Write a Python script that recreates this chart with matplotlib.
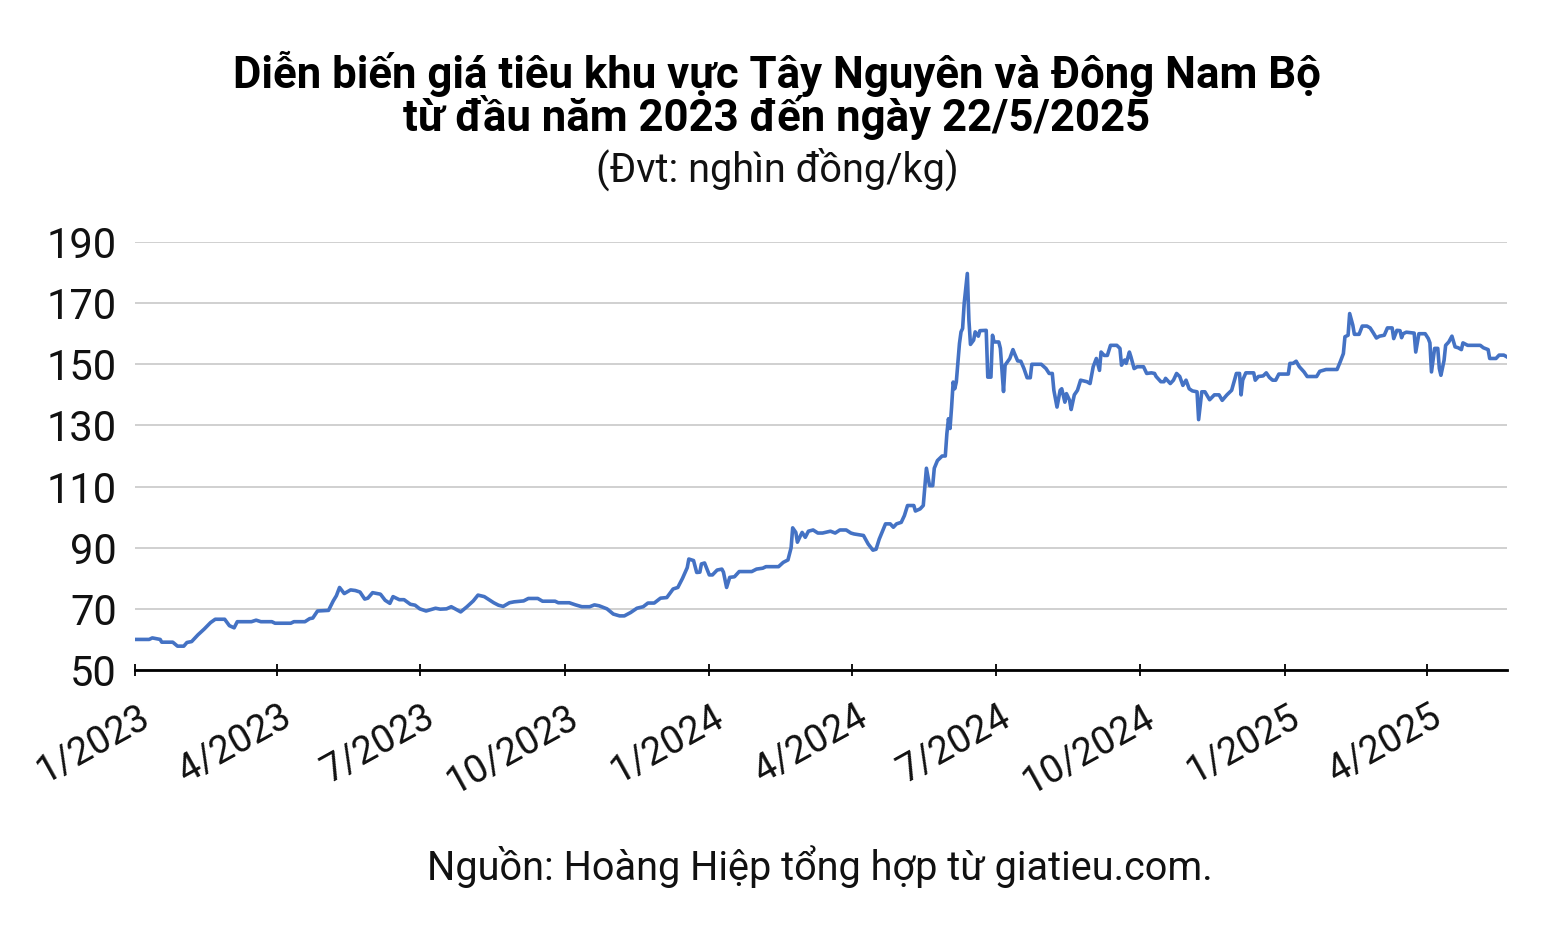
import matplotlib
matplotlib.use("Agg")
import matplotlib.pyplot as plt
import matplotlib.transforms as mtransforms
import pandas as pd

plt.rcParams['font.family'] = ['Roboto', 'DejaVu Sans']

# ---- data ----
start_date = "2023-01-01"
day_offsets = [
    0, 9, 11, 16, 17, 24, 27, 31, 33, 36, 40, 44, 48, 51, 57, 60, 63, 65, 74, 77,
    80, 87, 89, 99, 101, 108, 111, 113, 116, 123, 126, 128, 130, 133, 137, 140, 143,
    146, 148, 151, 156, 159, 162, 164, 168, 171, 175, 178, 181, 185, 191, 194, 198,
    201, 207, 211, 215, 218, 222, 228, 231, 234, 238, 241, 247, 250, 256, 259, 267,
    269, 276, 280, 284, 289, 292, 295, 300,
    304, 308, 311, 315, 319, 323, 326, 330, 334, 338, 342, 345, 348, 351, 352, 355,
    357, 359, 360, 362, 365, 367, 370, 373, 374, 376, 378, 381, 384, 392, 395, 399,
    401, 409, 412, 415, 417, 418, 420, 421, 423, 424, 426, 428, 431, 434, 437, 442,
    445, 448, 452, 455, 457,
    463, 466, 469, 471, 473, 477, 480, 482, 484, 487, 489, 491, 495, 496, 499, 501,
    502, 503, 505, 507, 508, 510, 513, 515, 516, 517, 518, 519, 520, 521, 522, 524,
    525, 526, 527, 529, 530, 531, 533, 534, 536, 537, 541, 542, 544, 545, 546, 549,
    550, 552, 553, 556, 558, 559, 561, 563, 565, 567, 569, 570, 576, 579, 581, 583,
    584, 586, 588, 589, 591, 592, 594, 595, 597, 599, 601, 605, 607, 609, 611, 613,
    614, 616, 618, 620, 624, 626, 627, 629, 630, 632, 633, 635, 637, 641, 643, 646,
    648, 649, 652, 654, 655, 658, 660, 662, 664, 666, 668, 670, 672, 675, 676, 678,
    680, 683, 686, 689, 691, 694, 697, 700, 702, 703, 704, 706, 711, 712, 714, 717,
    719, 721, 723, 725, 727, 733, 734, 736, 738, 740, 743, 745, 751, 753, 757, 764,
    766, 768, 769, 771, 772, 774, 775, 778, 780, 783, 785, 787, 789, 791, 794, 796,
    799, 800, 802, 804, 805, 806, 808, 813, 814, 816, 820, 822, 823, 824, 826, 828,
    829, 830, 832, 833, 835, 837, 839, 841, 843, 844, 847, 855, 857, 860, 861, 865,
    867, 870, 872,
]
prices = [
    60, 60, 60.5, 60, 59.1, 59.1, 57.8, 57.8, 59, 59.3, 61.5, 63.4, 65.5, 66.6, 66.6,
    64.5, 63.8, 65.8, 65.8, 66.3, 65.8, 65.8, 65.3, 65.3, 65.8, 65.8, 66.8, 67, 69.3,
    69.5, 72.6, 74.3, 77, 75, 76.2, 76, 75.5,
    73.2, 73.5, 75.3, 74.8, 72.8, 71.8, 74, 73, 73, 71.5, 71.2, 70, 69.3, 70.2, 69.9,
    70, 70.7, 69, 70.7, 72.6, 74.5, 74, 72, 71.2, 70.8, 72, 72.3, 72.6, 73.4, 73.4,
    72.5, 72.5, 72, 72, 71.3, 70.7, 70.7, 71.3, 71, 70,
    68.3, 67.7, 67.7, 68.8, 70.2, 70.7, 71.9, 71.9, 73.5, 73.7, 76.5, 77, 80, 83.5,
    86.3, 85.8, 81.9, 82, 84.7, 85, 81.1, 81.1, 82.7, 83, 82, 77, 80.3, 80.5, 82.2,
    82.2, 83, 83.3, 83.8, 83.8, 85.2, 86, 90, 96.5, 95, 91.8, 94, 95, 93.4, 95.4,
    95.8, 94.8, 94.8, 95.4, 94.8, 95.8, 95.8, 94.8, 94.5,
    94, 91.2, 89.2, 89.5, 92.8, 97.8, 97.8, 96.7, 97.8, 98.3, 100.5, 103.8, 103.8,
    102, 102.7, 103.8, 110, 116, 110.3, 110.3, 116, 118.5, 120, 120, 127.3, 132.2,
    129, 136, 144.2, 142, 144.2, 156.8, 160.6, 161.7, 169.9, 179.7, 164.5, 156.5,
    157.9, 160.6, 159.2, 161, 161.1, 145.8, 145.8, 159.5, 157.3, 157.3, 155.2, 141.1,
    149.7, 151.9, 154.8, 153.5, 151.1, 151, 148.6, 145.6, 145.6, 150, 150, 148.6, 147,
    147, 141.5, 136, 141.5, 142, 137.6, 140.4, 138.2, 135.2, 140, 141.5, 144.8, 144.3,
    143.7, 149.2, 151.9, 148, 154, 152.9, 152.9, 156.2, 156.2, 155.2, 149.7, 151.4,
    150.3, 154, 152.4, 148.6, 149.2, 149.2, 147, 147.2, 147, 146, 144.3, 144.3, 145.4,
    143.7, 144.8, 147, 146, 143.1, 144.8, 142, 141.3, 141, 131.9, 141, 141, 138.4,
    140, 140, 138.2, 140, 141.5, 147, 147, 140, 144.8, 147.2, 147.2, 144.8, 146,
    146.2, 147.2, 145.7, 144.8, 144.8, 146.8, 146.8, 150.3, 150.3, 151, 149.2, 147.5,
    146, 146, 147.7, 148.3, 148.3, 150.8, 153.5, 159, 159.5, 166.6, 162.8, 159.8,
    159.8, 162.5, 162.5, 161.9, 160.3, 158.6, 159.2, 159.5, 161.9, 161.9, 158.4,
    161.1, 161, 158.7, 160, 160.5, 160.2, 154, 160, 160, 158.4, 157, 147.5, 155.2,
    155.2, 148.6, 146.4, 151.3, 156.2, 157.3, 159.2, 155.7, 155.4, 154.8, 157, 156.2,
    156.2, 155.4, 154.8, 151.9, 151.9, 153, 153, 152.4,
]
end_date = "2025-05-22"
xtick_dates = ["2023-01-01", "2023-04-01", "2023-07-01", "2023-10-01", "2024-01-01",
               "2024-04-01", "2024-07-01", "2024-10-01", "2025-01-01", "2025-04-01"]
xtick_labels = ["1/2023", "4/2023", "7/2023", "10/2023", "1/2024",
                "4/2024", "7/2024", "10/2024", "1/2025", "4/2025"]
yticks = [50, 70, 90, 110, 130, 150, 170, 190]

title_line1 = "Diễn biến giá tiêu khu vực Tây Nguyên và Đông Nam Bộ"
title_line2 = "từ đầu năm 2023 đến ngày 22/5/2025"
subtitle = "(Đvt: nghìn đồng/kg)"
source = "Nguồn: Hoàng Hiệp tổng hợp từ giatieu.com."

# ---- figure ----
W, H = 1554, 936
fig = plt.figure(figsize=(W / 100, H / 100), dpi=100)
ax = fig.add_axes([135 / W, 1 - 670 / H, (1507 - 135) / W, (670 - 242) / H])

dates = pd.Timestamp(start_date) + pd.to_timedelta(day_offsets, unit="D")
ax.plot(dates, prices, color="#4472C4", lw=2.6, solid_joinstyle="round", zorder=3)

ax.set_xlim(pd.Timestamp(start_date), pd.Timestamp(end_date))
ax.set_ylim(50, 190)
ax.set_yticks(yticks)
ax.set_yticklabels([str(v) for v in yticks])
ax.grid(axis="y", color="#C8C8C8", lw=1.2, zorder=0)
ax.set_axisbelow(True)

for s in ["left", "top", "right"]:
    ax.spines[s].set_visible(False)
ax.spines["bottom"].set_linewidth(2)
ax.spines["bottom"].set_color("black")
ax.spines["bottom"].set_zorder(4)

ax.tick_params(axis="y", length=0, pad=13, labelsize=30, labelcolor="#111111")
ax.set_xticks(pd.to_datetime(xtick_dates))
ax.set_xticklabels(xtick_labels, rotation=29, ha="right", va="top", fontsize=27.5,
                   color="#111111")
ax.tick_params(axis="x", direction="inout", length=9, width=1.3, color="black", pad=16)
offset = mtransforms.ScaledTranslation(21 / 100, 0, fig.dpi_scale_trans)
for lab in ax.get_xticklabels():
    lab.set_transform(lab.get_transform() + offset)

fig.text(0.5, 1 - 88 / H, title_line1, ha="center", va="baseline",
         fontsize=31.5, fontweight="bold", color="black")
fig.text(0.5, 1 - 131 / H, title_line2, ha="center", va="baseline",
         fontsize=31.5, fontweight="bold", color="black")
fig.text(0.5, 1 - 182 / H, subtitle, ha="center", va="baseline",
         fontsize=28.5, color="#111111")
fig.text(820 / W, 1 - 880 / H, source, ha="center", va="baseline",
         fontsize=28.5, color="#111111")

fig.savefig("out.png", dpi=100, facecolor="white")
